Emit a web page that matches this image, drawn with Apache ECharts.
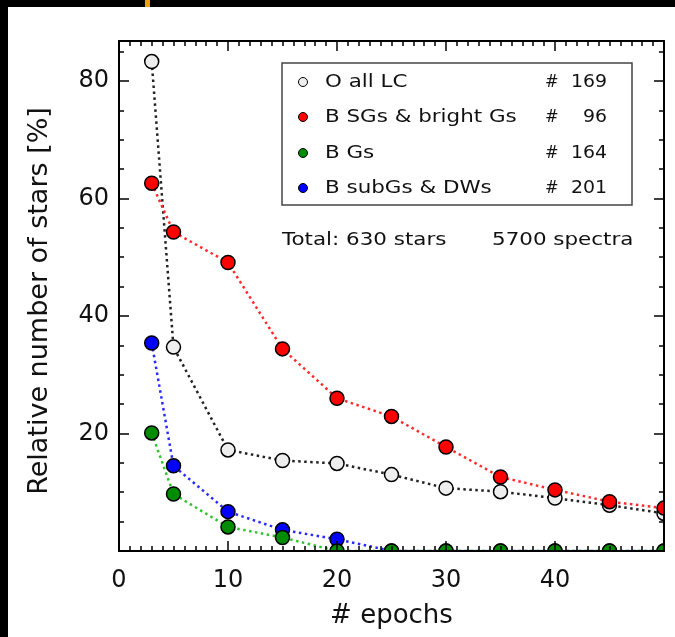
<!DOCTYPE html>
<html><head><meta charset="utf-8">
<script src="https://cdn.jsdelivr.net/npm/echarts@6/dist/echarts.min.js"></script>
<style>html,body{margin:0;padding:0;background:#000;}#c{width:675px;height:637px;}</style>
</head><body><div id="c"></div>
<script>
// ---- data ----
const epochs = [3, 5, 10, 15, 20, 25, 30, 35, 40, 45, 50];
const oAllLC = [83.3, 34.7, 17.2, 15.4, 14.9, 13.0, 10.7, 10.1, 9.0, 7.8, 6.4];
const bSGsBrightGs = [62.6, 54.3, 49.1, 34.4, 26.0, 22.9, 17.7, 12.6, 10.4, 8.4, 7.3];
const bGs = [20.1, 9.7, 4.1, 2.3, 0, 0, 0, 0, 0, 0, 0];
const bSubGsDWs = [35.4, 14.5, 6.7, 3.6, 2.0, 0, 0, 0, 0, 0, 0];
const seriesNames = ['O all LC', 'B SGs & bright Gs', 'B Gs', 'B subGs & DWs'];
const seriesCounts = [169, 96, 164, 201];
const totalStars = 630;
const totalSpectra = 5700;
const xTicks = [0, 10, 20, 30, 40];
const yTicks = [20, 40, 60, 80];
const xTitle = '# epochs';
const yTitle = 'Relative number of stars [%]';

// ---- styles ----
const FONT = '"DejaVu Sans", sans-serif';
const fills = ['#eeeeee', '#ff0000', '#008c00', '#0000ff'];
const lines = ['#222222', '#ff2a2a', '#2fc42f', '#2a2aff'];
const values = [oAllLC, bSGsBrightGs, bGs, bSubGsDWs];
const drawOrder = [0, 3, 2, 1];

const series = drawOrder.map((k, j) => ({
  type: 'line', name: seriesNames[k],
  data: epochs.map((e, i) => [e, values[k][i]]),
  symbol: 'circle', symbolSize: 14, clip: false,
  itemStyle: { color: fills[k], borderColor: '#000', borderWidth: 1.5 },
  lineStyle: { color: lines[k], width: 2.5, type: [2.5, 3.5] },
  emphasis: { disabled: true },
  z: 2 + j * 0.01, animation: false
}));

const axLine = { show: true, onZero: false, lineStyle: { color: '#000', width: 2 } };
const noLine = { show: false, onZero: false };
const tickStyle = { color: '#000', width: 1.5 };
const labelStyle = { color: '#111', fontFamily: FONT, fontSize: 24 };
const MAJ = 10, MIN = 5;

const xBase = { type: 'value', min: 0, max: 50, interval: 10, z: 10,
  axisLine: axLine, splitLine: { show: false },
  axisTick: { show: true, inside: true, length: MAJ, lineStyle: tickStyle },
  minorTick: { show: true, splitNumber: 10, length: MIN, lineStyle: tickStyle } };

const yBase = { type: 'value', min: 0, max: 86.8, z: 10, splitLine: { show: false } };

// ---- legend graphics ----
const rowY = [82, 117, 153, 188];
const TS = 1.19;
const txt = (x, y, s, align, sx) => ({ type: 'text', z: 21, x: x, y: y, scaleX: sx,
  style: { text: s, font: '18px ' + FONT, fill: '#111', textAlign: align, textVerticalAlign: 'middle' } });
const graphic = [
  { type: 'rect', z: 5, shape: { x: 90, y: 551.5, width: 590, height: 14 }, style: { fill: '#fff' } },
  { type: 'rect', z: 5, shape: { x: 664.5, y: 0, width: 20, height: 637 }, style: { fill: '#fff' } },
  { type: 'rect', z: 20, shape: { x: 282, y: 63, width: 350, height: 142 }, style: { fill: '#fff', stroke: '#444', lineWidth: 1.5 } }
];
seriesNames.forEach((n, k) => {
  graphic.push({ type: 'circle', z: 21, shape: { cx: 303, cy: rowY[k], r: 4.5 }, style: { fill: fills[k], stroke: '#000', lineWidth: 1 } });
  graphic.push(txt(325, rowY[k], n, 'left', TS));
  graphic.push(txt(545, rowY[k], '#', 'left', 0.9));
  graphic.push(txt(607, rowY[k], String(seriesCounts[k]), 'right', 1.05));
});
graphic.push(txt(282, 240, 'Total: ' + totalStars + ' stars', 'left', TS));
graphic.push(txt(492, 240, totalSpectra + ' spectra', 'left', TS));
// outer black frame
graphic.push({ type: 'rect', z: 100, shape: { x: 0, y: 0, width: 675, height: 7 }, style: { fill: '#000' } });
graphic.push({ type: 'rect', z: 100, shape: { x: 0, y: 0, width: 8, height: 637 }, style: { fill: '#000' } });
graphic.push({ type: 'rect', z: 101, shape: { x: 145, y: 0, width: 5, height: 7 }, style: { fill: '#f0a000' } });

const option = {
  animation: false,
  backgroundColor: '#ffffff',
  grid: { left: 119, top: 41, width: 545, height: 510, containLabel: false },
  xAxis: [
    Object.assign({}, xBase, { position: 'bottom',
      axisLabel: Object.assign({}, labelStyle, { margin: 18, showMaxLabel: false,
        formatter: v => xTicks.includes(v) ? String(v) : '' }),
      name: xTitle, nameLocation: 'middle', nameGap: 52,
      nameTextStyle: { color: '#111', fontFamily: FONT, fontSize: 26 } }),
    Object.assign({}, xBase, { position: 'top', axisLabel: { show: false } })
  ],
  yAxis: [
    Object.assign({}, yBase, { position: 'left', interval: 20, axisLine: axLine,
      axisTick: { show: true, inside: true, length: MAJ, lineStyle: tickStyle },
      axisLabel: Object.assign({}, labelStyle, { margin: 10,
        formatter: v => yTicks.includes(v) ? String(v) : '' }),
      name: yTitle, nameLocation: 'middle', nameGap: 66, nameRotate: 90,
      nameTextStyle: { color: '#111', fontFamily: FONT, fontSize: 27, padding: [0, 10, 0, 0] } }),
    Object.assign({}, yBase, { position: 'left', interval: 5, axisLine: noLine,
      axisTick: { show: true, inside: true, length: MIN, lineStyle: tickStyle }, axisLabel: { show: false } }),
    Object.assign({}, yBase, { position: 'right', interval: 20, axisLine: axLine,
      axisTick: { show: true, inside: true, length: MAJ, lineStyle: tickStyle }, axisLabel: { show: false } }),
    Object.assign({}, yBase, { position: 'right', interval: 5, axisLine: noLine,
      axisTick: { show: true, inside: true, length: MIN, lineStyle: tickStyle }, axisLabel: { show: false } })
  ],
  series: series,
  graphic: graphic
};
const chart = echarts.init(document.getElementById('c'), null, { renderer: 'canvas' });
chart.setOption(option);
</script></body></html>
